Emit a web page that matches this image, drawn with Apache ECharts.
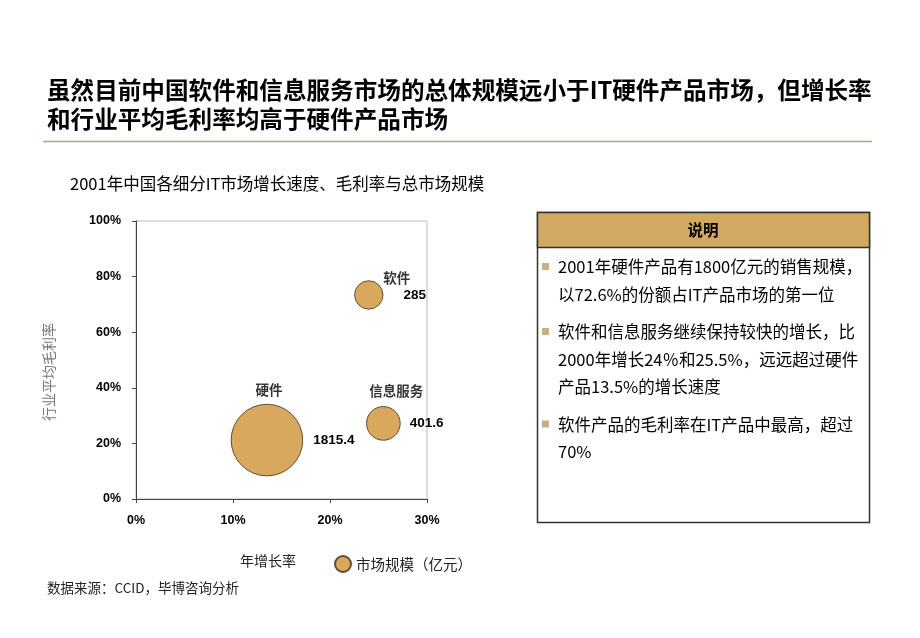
<!DOCTYPE html>
<html>
<head>
<meta charset="utf-8">
<title>2001年中国各细分IT市场</title>
<script src="https://cdn.jsdelivr.net/npm/echarts@6/dist/echarts.min.js"></script>
<style>
    html, body { margin: 0; padding: 0; background: #fff; }
    #chart { width: 920px; height: 638px; }
</style>
</head>
<body>
<div id="chart"></div>
<script>
// 数据
const segments = ['硬件', '软件', '信息服务'];
const growthRate = [13.5, 24, 25.5];        // 年增长率 (%)
const grossMargin = [21.2, 73.4, 27.2];     // 行业平均毛利率 (%)
const marketSize = [1815.4, 285, 401.6];    // 市场规模（亿元）
const xTicks = [0, 10, 20, 30];
const yTicks = [0, 20, 40, 60, 80, 100];

// 标签位置微调
const nameOffsets = [[2, -50], [28, -17], [13, -33]];
const valueGaps = [10, 20, 9];

const titleLines = [
    '虽然目前中国软件和信息服务市场的总体规模远小于IT硬件产品市场，但增长率',
    '和行业平均毛利率均高于硬件产品市场'
];
const noteItems = [
    ['2001年硬件产品有1800亿元的销售规模，', '以72.6%的份额占IT产品市场的第一位'],
    ['软件和信息服务继续保持较快的增长，比', '2000年增长24％和25.5%，远远超过硬件', '产品13.5%的增长速度'],
    ['软件产品的毛利率在IT产品中最高，超过', '70%']
];

const FONT = '"Noto Sans CJK SC", "Liberation Sans", sans-serif';
const BOLD_NUM = '"Liberation Sans", Arial, sans-serif';
const TAN = '#D8A85E';

const chart = echarts.init(document.getElementById('chart'));

const bubbleData = segments.map((name, i) => ({
    name: name,
    value: [growthRate[i], grossMargin[i], marketSize[i]],
    label: { distance: valueGaps[i] }
}));

const nameData = segments.map((name, i) => ({
    name: name,
    value: [growthRate[i], grossMargin[i]],
    label: { offset: nameOffsets[i] }
}));

// 标题、说明框等
const graphics = [];
graphics.push({
    type: 'line',
    shape: { x1: 43, y1: 141.5, x2: 872, y2: 141.5 },
    style: { stroke: '#A9A88E', lineWidth: 1.5 }
});
titleLines.forEach((t, i) => {
    graphics.push({
        type: 'text', left: 47, top: 78 + i * 29,
        style: { text: t, font: 'bold 23.6px ' + FONT, fill: '#000' }
    });
});
graphics.push({
    type: 'text', left: 70, top: 175,
    style: { text: '2001年中国各细分IT市场增长速度、毛利率与总市场规模', font: '16.5px ' + FONT, fill: '#000' }
});
graphics.push({
    type: 'rect',
    shape: { x: 537.5, y: 212.5, width: 332, height: 310 },
    style: { fill: '#fff', stroke: '#333', lineWidth: 1.5 }
});
graphics.push({
    type: 'rect',
    shape: { x: 537.5, y: 212.5, width: 332, height: 35 },
    style: { fill: '#D2A962', stroke: '#333', lineWidth: 1.5 }
});
graphics.push({
    type: 'text', x: 703, y: 230,
    style: { text: '说明', font: 'bold 15.5px ' + FONT, fill: '#000', align: 'center', verticalAlign: 'middle' }
});
let lineY = 267;
noteItems.forEach(lines => {
    graphics.push({
        type: 'rect',
        shape: { x: 542, y: lineY - 4, width: 7, height: 7 },
        style: { fill: '#C9B083' }
    });
    lines.forEach(l => {
        graphics.push({
            type: 'text', x: 558, y: lineY,
            style: { text: l, font: '16.5px ' + FONT, fill: '#000', verticalAlign: 'middle' }
        });
        lineY += 27.5;
    });
    lineY += 10;
});
graphics.push({
    type: 'text', left: 47, top: 581,
    style: { text: '数据来源：CCID，毕博咨询分析', font: '13.5px ' + FONT, fill: '#222' }
});

const option = {
    animation: false,
    textStyle: { fontFamily: FONT },
    grid: {
        left: 136, top: 221, width: 291, height: 278,
        show: true, borderColor: '#BBBBBB', borderWidth: 1, backgroundColor: 'transparent'
    },
    legend: {
        data: [{ name: '市场规模（亿元）', icon: 'circle' }],
        left: 329, top: 550,
        itemWidth: 16, itemHeight: 16, itemGap: 5,
        textStyle: { fontFamily: FONT, fontSize: 14.5, color: '#222' }
    },
    xAxis: {
        type: 'value', min: 0, max: 30, interval: 10,
        name: '年增长率', nameLocation: 'middle', nameGap: 55,
        nameTextStyle: { fontFamily: FONT, fontSize: 14, color: '#222', padding: [0, 27, 0, 0] },
        axisLine: { show: true, lineStyle: { color: '#444', width: 1 } },
        axisTick: { show: true, length: 4, lineStyle: { color: '#444' } },
        splitLine: { show: false },
        axisLabel: {
            margin: 15, fontFamily: BOLD_NUM, fontWeight: 'bold', fontSize: 12.5, color: '#000',
            formatter: v => xTicks.includes(v) ? v + '%' : ''
        }
    },
    yAxis: {
        type: 'value', min: 0, max: 100, interval: 20,
        name: '行业平均毛利率', nameLocation: 'middle', nameGap: 80, nameRotate: 90,
        nameTextStyle: { fontFamily: FONT, fontSize: 14, color: '#777', padding: [0, 24, 0, 0] },
        axisLine: { show: true, lineStyle: { color: '#444', width: 1 } },
        axisTick: { show: true, length: 4, lineStyle: { color: '#444' } },
        splitLine: { show: false },
        axisLabel: {
            margin: 15, fontFamily: BOLD_NUM, fontWeight: 'bold', fontSize: 12.5, color: '#000',
            formatter: v => yTicks.includes(v) ? v + '%' : ''
        }
    },
    series: [
        {
            name: '市场规模（亿元）',
            type: 'scatter',
            data: bubbleData,
            symbolSize: d => 1.68 * Math.sqrt(d[2]),
            itemStyle: { color: TAN, borderColor: '#5E4E33', borderWidth: 1, opacity: 1 },
            label: {
                show: true, position: 'right',
                fontFamily: BOLD_NUM, fontWeight: 'bold', fontSize: 13.5, color: '#000',
                formatter: p => p.value[2]
            },
            z: 3
        },
        {
            name: '名称',
            type: 'scatter',
            data: nameData,
            symbolSize: 0,
            silent: true,
            itemStyle: { color: 'transparent' },
            label: {
                show: true, position: 'inside',
                fontFamily: FONT, fontWeight: 'bold', fontSize: 13.5, color: '#000',
                formatter: p => p.name
            },
            z: 4
        }
    ],
    graphic: graphics
};

chart.setOption(option);
</script>
</body>
</html>
